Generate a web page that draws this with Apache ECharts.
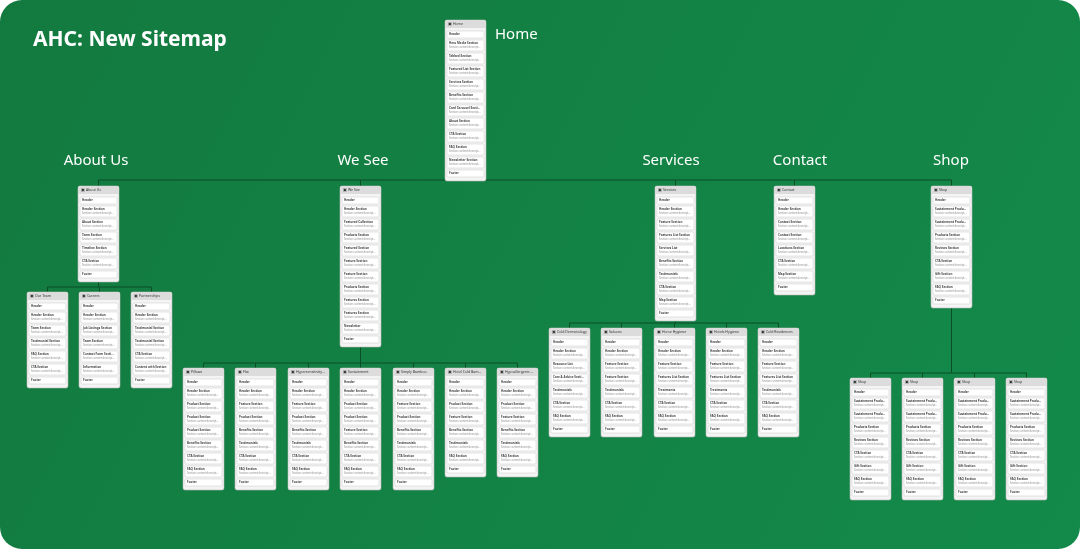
<!DOCTYPE html>
<html><head><meta charset="utf-8">
<script src="https://cdn.jsdelivr.net/npm/echarts@6/dist/echarts.min.js"></script>
<style>html,body{margin:0;padding:0;background:#fff}#c{width:1080px;height:549px}</style>
</head><body><div id="c"></div>
<script>
const title = "AHC: New Sitemap";
const sectionLabels = ["Home","About Us","We See","Services","Contact","Shop"];
const cardNames = ["Home","About Us","Our Team","Careers","Partnerships","We See","Services","Contact","Shop",
 "Pillows","Flat","Hypersensitivity Economics","Sustainment","Simply Bamboo","Hotel Cold Bamboo","Hypoallergenic Cold Solutions",
 "Cold Dermatology","Saloons","Horse Hygiene","Hotels Hygiene","Cold Residences","Shop","Shop","Shop","Shop"];
const cardSections = [
 ["Header","Hero Media Section","Tabbed Section","Featured List Section","Services Section","Benefits Section","Card Carousel Section","About Section","CTA Section","FAQ Section","Newsletter Section","Footer"],
 ["Header","Header Section","About Section","Team Section","Timeline Section","CTA Section","Footer"],
 ["Header","Header Section","Team Section","Testimonial Section","FAQ Section","CTA Section","Footer"],
 ["Header","Header Section","Job Listings Section","Team Section","Contact Form Section","Information","Footer"],
 ["Header","Header Section","Testimonial Section","Testimonial Section","CTA Section","Content with Section","Footer"],
 ["Header","Header Section","Featured Collection","Products Section","Featured Section","Feature Section","Feature Section","Products Section","Features Section","Features Section","Newsletter","Footer"],
 ["Header","Header Section","Feature Section","Features List Section","Services List","Benefits Section","Testimonials","CTA Section","Map Section","Footer"],
 ["Header","Header Section","Contact Section","Contact Section","Locations Section","CTA Section","Map Section","Footer"],
 ["Header","Sustainment Product Section","Sustainment Product Section","Products Section","Reviews Section","CTA Section","Gift Section","FAQ Section","Footer"],
 ["Header","Header Section","Product Section","Product Section","Product Section","Benefits Section","CTA Section","FAQ Section","Footer"],
 ["Header","Header Section","Feature Section","Product Section","Benefits Section","Testimonials","CTA Section","FAQ Section","Footer"],
 ["Header","Header Section","Feature Section","Product Section","Benefits Section","Testimonials","CTA Section","FAQ Section","Footer"],
 ["Header","Header Section","Product Section","Product Section","Feature Section","Benefits Section","CTA Section","FAQ Section","Footer"],
 ["Header","Header Section","Feature Section","Product Section","Benefits Section","Testimonials","CTA Section","FAQ Section","Footer"],
 ["Header","Header Section","Product Section","Feature Section","Benefits Section","Testimonials","FAQ Section","Footer"],
 ["Header","Header Section","Product Section","Feature Section","Benefits Section","Testimonials","FAQ Section","Footer"],
 ["Header","Header Section","Resource List","Care & Advice Section","Testimonials","CTA Section","FAQ Section","Footer"],
 ["Header","Header Section","Feature Section","Feature Section","Testimonials","CTA Section","FAQ Section","Footer"],
 ["Header","Header Section","Feature Section","Features List Section","Treatments","CTA Section","FAQ Section","Footer"],
 ["Header","Header Section","Feature Section","Features List Section","Treatments","CTA Section","FAQ Section","Footer"],
 ["Header","Header Section","Feature Section","Features List Section","Testimonials","CTA Section","FAQ Section","Footer"],
 ["Header","Sustainment Product Section","Sustainment Product Section","Products Section","Reviews Section","CTA Section","Gift Section","FAQ Section","Footer"],
 ["Header","Sustainment Product Section","Sustainment Product Section","Products Section","Reviews Section","CTA Section","Gift Section","FAQ Section","Footer"],
 ["Header","Sustainment Product Section","Sustainment Product Section","Products Section","Reviews Section","CTA Section","Gift Section","FAQ Section","Footer"],
 ["Header","Sustainment Product Section","Sustainment Product Section","Products Section","Reviews Section","CTA Section","Gift Section","FAQ Section","Footer"]
];
// layout (pixel positions of diagram cards)
const layout = [[445,20],[78,186],[27,292],[79,292],[131,292],[340,186],[655,186],[774,186],[931,186],
 [183,368],[235,368],[288,368],[340,368],[393,368],[445,368],[497,368],
 [549,328],[601,328],[654,328],[706,328],[758,328],[850,378],[902,378],[954,378],[1006,378]];
const labelPos = [[495,35,'left'],[96,161,'center'],[363,161,'center'],[671,161,'center'],[800,161,'center'],[951,161,'center']];

const W=41, els=[];
els.push({type:'rect',shape:{x:0,y:0,width:1080,height:549,r:22},style:{fill:new echarts.graphic.LinearGradient(0,0,1,1,[{offset:0,color:'#137a3f'},{offset:1,color:'#138a4a'}])}});
els.push({type:'text',style:{x:33,y:30,text:title,fill:'#fff',font:'bold 21px "Noto Sans"'}});
labelPos.forEach((p,i)=>els.push({type:'text',style:{x:p[0],y:p[1],text:sectionLabels[i],fill:'#fff',font:'15px "Noto Sans"',align:p[2],verticalAlign:'middle'}}));
const L='#0b4d27';
function line(x1,y1,x2,y2){els.push({type:'line',shape:{x1,y1,x2,y2},style:{stroke:L,lineWidth:1}});}
const cx=i=>layout[i][0]+W/2;
const heights=[];
cardSections.forEach((secs,i)=>{let h=11;secs.forEach(s=>{h+=(s==='Header'||s==='Footer')?9:13;});heights[i]=h+2;});
// connectors
line(cx(1),180,cx(8),180); line(cx(0),20+heights[0],cx(0),180);
[1,5,6,7,8].forEach(i=>line(cx(i),180,cx(i),186));
function group(p,kids,y){const yb=layout[p][1]+heights[p];const ym=y-5;line(cx(p),yb,cx(p),ym);line(cx(kids[0]),ym,cx(kids[kids.length-1]),ym);kids.forEach(k=>line(cx(k),ym,cx(k),y));}
group(1,[2,3,4],292); group(5,[9,10,11,12,13,14,15],368); group(6,[16,17,18,19,20],328); group(8,[21,22,23,24],378);
// cards
cardSections.forEach((secs,i)=>{
 const [x,y]=layout[i];
 els.push({type:'rect',shape:{x,y,width:W,height:heights[i],r:2},style:{fill:'#f4f4f4',stroke:'#bbb',lineWidth:0.6}});
 els.push({type:'rect',shape:{x,y,width:W,height:8,r:[2,2,0,0]},style:{fill:'#dcdcdc'}});
 els.push({type:'text',style:{x:x+3,y:y+4,text:'▣ '+cardNames[i],fill:'#333',font:'3.5px "Noto Sans"',verticalAlign:'middle',width:W-5,overflow:'truncate'}});
 let yy=y+11;
 secs.forEach(s=>{
  const short=(s==='Header'||s==='Footer'); const h=short?7:11;
  els.push({type:'rect',shape:{x:x+2,y:yy,width:W-4,height:h,r:1},style:{fill:'#fff',stroke:'#c8c8c8',lineWidth:0.5}});
  els.push({type:'text',style:{x:x+4,y:yy+3.5,text:s,fill:'#444',font:'bold 3px "Noto Sans"',verticalAlign:'middle',width:W-8,overflow:'truncate'}});
  if(!short){els.push({type:'text',style:{x:x+4,y:yy+7.5,text:'Section content description',fill:'#888',font:'2.6px "Noto Sans"',verticalAlign:'middle',width:W-8,overflow:'truncate'}});}
  yy+=h+2;
 });
});
const chart=echarts.init(document.getElementById('c'));
chart.setOption({backgroundColor:'#fff',graphic:{elements:els}});
</script></body></html>
